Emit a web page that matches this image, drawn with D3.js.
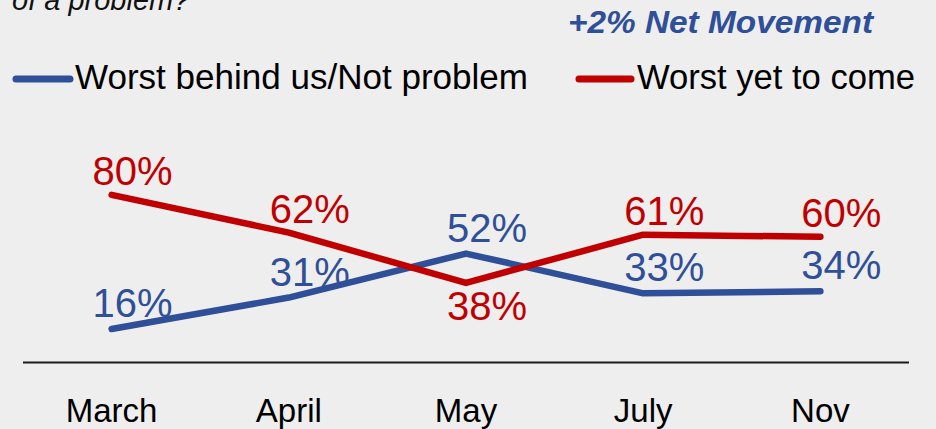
<!DOCTYPE html>
<html>
<head>
<meta charset="utf-8">
<script src="https://cdn.jsdelivr.net/npm/d3@7"></script>
<style>
  html, body { margin: 0; padding: 0; background: #eeeeee; }
  svg { display: block; font-family: "Liberation Sans", Arial, sans-serif; }
</style>
</head>
<body>
<svg id="chart" width="936" height="429"></svg>
<script>
// chart values
const months = ['March', 'April', 'May', 'July', 'Nov'];
const behindUs = [16, 31, 52, 33, 34];   // Worst behind us/Not problem
const yetToCome = [80, 62, 38, 61, 60];  // Worst yet to come
const seriesNames = ['Worst behind us/Not problem', 'Worst yet to come'];

const BLUE = '#2f4f98';
const RED = '#c00000';

const svg = d3.select('#chart');
const W = 936, H = 429;

svg.append('rect').attr('width', W).attr('height', H).attr('fill', '#eeeeee');

const x = d3.scaleBand().domain(months).range([23, 909]);
const y = d3.scaleLinear().domain([0, 100]).range([362.5, 153]);
const cx = m => x(m) + x.bandwidth() / 2;

// question text, cut off at the top like the slide it came from
svg.append('text')
  .attr('x', 12).attr('y', 10)
  .attr('font-size', 29).attr('font-style', 'italic')
  .attr('fill', '#111')
  .text('of a problem?');

svg.append('text')
  .attr('x', 568).attr('y', 33)
  .attr('font-size', 32).attr('font-style', 'italic').attr('font-weight', 'bold')
  .attr('fill', BLUE)
  .attr('textLength', 305).attr('lengthAdjust', 'spacingAndGlyphs')
  .text('+2% Net Movement');

// legend
const legend = [
  { name: seriesNames[0], color: BLUE, x1: 16, x2: 70, tx: 75, w: 453 },
  { name: seriesNames[1], color: RED, x1: 579, x2: 631, tx: 637, w: 278 }
];
legend.forEach(l => {
  svg.append('line')
    .attr('x1', l.x1).attr('x2', l.x2).attr('y1', 79).attr('y2', 79)
    .attr('stroke', l.color).attr('stroke-width', 7).attr('stroke-linecap', 'round');
  svg.append('text')
    .attr('x', l.tx).attr('y', 89)
    .attr('font-size', 35).attr('fill', '#000')
    .attr('textLength', l.w).attr('lengthAdjust', 'spacingAndGlyphs')
    .text(l.name);
});

// baseline
svg.append('line')
  .attr('x1', 23).attr('x2', 909).attr('y1', y(0)).attr('y2', y(0))
  .attr('stroke', '#1a1a1a').attr('stroke-width', 2);

// x axis labels
const xAxis = svg.append('g')
  .attr('transform', `translate(0,${y(0)})`)
  .call(d3.axisBottom(x).tickSize(0).tickPadding(0));
xAxis.select('.domain').remove();
xAxis.selectAll('text')
  .attr('y', 59).attr('dy', null)
  .attr('font-size', 33).attr('fill', '#000')
  .attr('font-family', '"Liberation Sans", Arial, sans-serif');

const line = d3.line()
  .x((d, i) => cx(months[i]))
  .y(d => y(d));

const series = [
  { values: behindUs, color: BLUE },
  { values: yetToCome, color: RED }
];

series.forEach(s => {
  svg.append('path')
    .datum(s.values)
    .attr('d', line)
    .attr('fill', 'none')
    .attr('stroke', s.color)
    .attr('stroke-width', 6.5)
    .attr('stroke-linecap', 'round')
    .attr('stroke-linejoin', 'round');
});

// data labels: blue always above, red above unless it is the lower line
series.forEach((s, si) => {
  svg.append('g').selectAll('text')
    .data(s.values)
    .join('text')
    .attr('x', (d, i) => cx(months[i]) + 21)
    .attr('y', (d, i) => {
      const other = series[1 - si].values[i];
      const below = si === 1 && d < other;
      return below ? y(d) + 37 : y(d) - (si === 0 ? 12 : 10);
    })
    .attr('text-anchor', 'middle')
    .attr('font-size', 40)
    .attr('fill', s.color)
    .text(d => d + '%');
});
</script>
</body>
</html>
